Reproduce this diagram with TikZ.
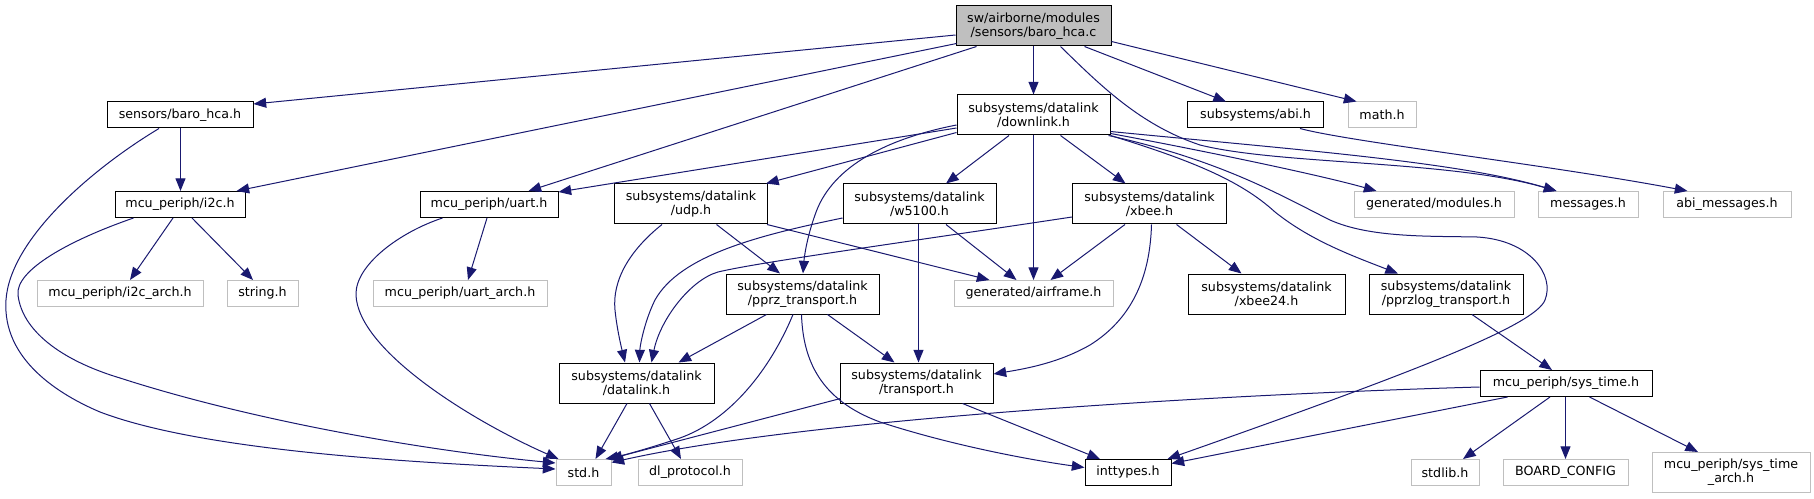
\documentclass[tikz,border=0pt]{standalone}
\usepackage{fontspec}
\setmainfont{DejaVu Sans}
\usetikzlibrary{arrows.meta,calc}
\newlength{\px}\setlength{\px}{0.75pt}
\definecolor{edgecol}{HTML}{191970}
\definecolor{undoc}{HTML}{BFBFBF}
\begin{document}
\begin{tikzpicture}[x=0.75pt,y=-0.75pt,
  nodebase/.style={rectangle, inner sep=0pt, align=center, font=\fontsize{9.5}{10.7}\selectfont, text=black, line width=0.75pt},
  doc/.style={nodebase, draw=black},
  undocbox/.style={nodebase, draw=undoc},
  mainbox/.style={nodebase, draw=black, fill=undoc},
  one/.style={minimum height=26\px},
  two/.style={minimum height=40\px},
  dep/.style={draw=edgecol, line width=0.75pt, -{Triangle[length=9.5pt,width=7.5pt]}},
]
\useasboundingbox (0,0) rectangle (1814,499);
\fill[white] (0,0) rectangle (1814,499);

% row 0
\node[mainbox,two,minimum width=155\px] (main) at (1033.5,26) {sw/airborne/modules\\/sensors/baro\_hca.c};
% row 1
\node[doc,one,minimum width=146\px] (baroh) at (180,115) {sensors/baro\_hca.h};
\node[doc,two,minimum width=153\px] (downlink) at (1033.5,115) {subsystems/datalink\\/downlink.h};
\node[doc,one,minimum width=136\px] (abi) at (1255.5,115) {subsystems/abi.h};
\node[undocbox,one,minimum width=68\px] (math) at (1382,115) {math.h};
% row 2
\node[doc,one,minimum width=130\px] (i2c) at (180,204.5) {mcu\_periph/i2c.h};
\node[doc,one,minimum width=138\px] (uart) at (489,204.5) {mcu\_periph/uart.h};
\node[doc,two,minimum width=153\px] (udp) at (691,204) {subsystems/datalink\\/udp.h};
\node[doc,two,minimum width=153\px] (w5100) at (919.5,204) {subsystems/datalink\\/w5100.h};
\node[doc,two,minimum width=154\px] (xbee) at (1149.5,204) {subsystems/datalink\\/xbee.h};
\node[undocbox,one,minimum width=160\px] (modules) at (1434,204.5) {generated/modules.h};
\node[undocbox,one,minimum width=100\px] (messages) at (1588,204.5) {messages.h};
\node[undocbox,one,minimum width=128\px] (abimsg) at (1727,204.5) {abi\_messages.h};
% row 3
\node[undocbox,one,minimum width=166\px] (i2carch) at (120,293.5) {mcu\_periph/i2c\_arch.h};
\node[undocbox,one,minimum width=71\px] (string) at (262.5,293.5) {string.h};
\node[undocbox,one,minimum width=174\px] (uartarch) at (460,293.5) {mcu\_periph/uart\_arch.h};
\node[doc,two,minimum width=153\px] (pprz) at (802.5,294) {subsystems/datalink\\/pprz\_transport.h};
\node[undocbox,one,minimum width=159\px] (airframe) at (1033.5,293.5) {generated/airframe.h};
\node[doc,two,minimum width=157\px] (xbee24) at (1266.5,294) {subsystems/datalink\\/xbee24.h};
\node[doc,two,minimum width=154\px] (pprzlog) at (1446,294) {subsystems/datalink\\/pprzlog\_transport.h};
% row 4
\node[doc,two,minimum width=155\px] (datalink) at (636.5,383) {subsystems/datalink\\/datalink.h};
\node[doc,two,minimum width=153\px] (transport) at (916.5,383) {subsystems/datalink\\/transport.h};
\node[doc,one,minimum width=172\px] (systime) at (1566,383.5) {mcu\_periph/sys\_time.h};
% row 5
\node[undocbox,one,minimum width=55\px] (stdh) at (583.5,472.5) {std.h};
\node[undocbox,one,minimum width=104\px] (dlproto) at (690,472.5) {dl\_protocol.h};
\node[doc,one,minimum width=86\px] (inttypes) at (1128,472.5) {inttypes.h};
\node[undocbox,one,minimum width=68\px] (stdlib) at (1445,472.5) {stdlib.h};
\node[undocbox,one,minimum width=125\px] (board) at (1565.5,472.5) {BOARD\_CONFIG};
\node[undocbox,two,minimum width=158\px] (systimearch) at (1731,472.5) {mcu\_periph/sys\_time\\\_arch.h};

% edges from main
\draw[dep] ($(main.west)+(0,9)$) -- ($(baroh.east)+(0,-11)$);
\draw[dep] ($(main.south west)+(1,-3)$) -- ($(i2c.north east)+(-9,0)$);
\draw[dep] ($(main.south west)+(21,0)$) -- ($(uart.north east)+(-30,0)$);
\draw[dep] (main) -- (downlink);
\draw[dep] ($(main.south)+(27,0)$) .. controls (1100,85) and (1140,125) .. (1200,145) .. controls (1280,165) and (1450,160) .. ($(messages.north west)+(19,0)$);
\draw[dep] ($(main.south east)+(-27,0)$) -- ($(abi.north west)+(39,0)$);
\draw[dep] ($(main.south east)+(0,-5)$) -- ($(math.north west)+(9,0)$);

% baro_hca.h
\draw[dep] ($(baroh.south)+(0.5,0)$) -- ($(i2c.north)+(0.5,0)$);
\draw[dep] ($(baroh.south)+(-21,0)$) .. controls (90,170) and (10,240) .. (6,300) .. controls (2,360) and (60,395) .. (100,412) .. controls (200,450) and (400,462) .. ($(stdh.west)+(0,-3.5)$);

% i2c.h
\draw[dep] ($(i2c.south)+(-7,0)$) -- ($(i2carch.north)+(10,0)$);
\draw[dep] ($(i2c.south)+(12,0)$) -- ($(string.north)+(-9.5,0)$);
\draw[dep] ($(i2c.south west)+(19,0)$) .. controls (70,240) and (15,270) .. (18,295) .. controls (22,330) and (60,360) .. (120,378) .. controls (250,420) and (420,450) .. ($(stdh.west)+(0,-9.5)$);

% uart.h
\draw[dep] ($(uart.south)+(-2,0)$) -- ($(uartarch.north)+(8,0)$);
\draw[dep] ($(uart.south west)+(23,0)$) .. controls (400,232) and (355,265) .. (356,295) .. controls (358,350) and (470,420) .. ($(stdh.north west)+(3,0)$);

% downlink.h
\draw[dep] ($(downlink.west)+(0,13)$) -- ($(uart.north east)+(0,1)$);
\draw[dep] ($(downlink.south west)+(0,-3)$) -- ($(udp.north east)+(-2,0)$);
\draw[dep] ($(downlink.west)+(0,10)$) .. controls (880,140) and (830,170) .. (815,215) .. controls (806,240) and (804,260) .. ($(pprz.north)+(0.5,0)$);
\draw[dep] ($(downlink.south)+(-24.5,0)$) -- ($(w5100.north)+(26.5,0)$);
\draw[dep] (downlink) -- (airframe);
\draw[dep] ($(downlink.south)+(27,0)$) -- ($(xbee.north)+(-24,0)$);
\draw[dep] ($(downlink.south east)+(0,-2)$) .. controls (1200,150) and (1320,175) .. ($(modules.north west)+(23,0)$);
\draw[dep] ($(downlink.south east)+(0,-4)$) .. controls (1300,150) and (1460,162) .. ($(messages.north west)+(19,0)$);
\draw[dep] (downlink.south east) .. controls (1190,160) and (1240,180) .. (1275,212) .. controls (1310,240) and (1350,255) .. ($(pprzlog.north)+(-48,0)$);
\draw[dep] ($(downlink.south east)+(-2,0)$) .. controls (1220,160) and (1280,195) .. (1330,220) .. controls (1370,238) and (1430,236) .. (1477,237) .. controls (1530,240) and (1555,275) .. (1545,300) .. controls (1535,325) and (1420,370) .. ($(inttypes.north east)+(-4,0)$);

% udp.h
\draw[dep] ($(udp.south)+(25.5,0)$) -- ($(pprz.north)+(-22.5,0)$);
\draw[dep] ($(udp.south)+(-29,0)$) .. controls (630,250) and (612,280) .. (615,310) .. controls (617,330) and (622,350) .. ($(datalink.north)+(-11.5,0)$);
\draw[dep] ($(udp.south east)+(-1,0)$) -- ($(airframe.north west)+(36,0)$);

% w5100.h
\draw[dep] ($(w5100.west)+(0,14)$) .. controls (760,235) and (680,255) .. (655,300) .. controls (645,320) and (640,345) .. ($(datalink.north)+(3,0)$);
\draw[dep] ($(w5100.south)+(26.5,0)$) -- ($(airframe.north west)+(63,0)$);
\draw[dep] ($(w5100.south)+(-1,0)$) -- ($(transport.north)+(2,0)$);

% xbee.h
\draw[dep] ($(xbee.south)+(-24.5,0)$) -- ($(airframe.north)+(17,0)$);
\draw[dep] ($(xbee.south)+(27,0)$) -- ($(xbee24.north west)+(54,0)$);
\draw[dep] ($(xbee.south)+(2,0)$) .. controls (1150,280) and (1130,320) .. (1090,345) .. controls (1060,362) and (1030,368) .. ($(transport.east)+(0,-9)$);
\draw[dep] ($(xbee.west)+(0,13)$) .. controls (900,243) and (760,262) .. (718,272) .. controls (690,280) and (660,320) .. ($(datalink.north)+(15,0)$);

% pprz_transport.h
\draw[dep] ($(pprz.south)+(-36,0)$) -- ($(datalink.north east)+(-36,0)$);
\draw[dep] ($(pprz.south)+(-9.5,0)$) .. controls (770,370) and (730,420) .. (680,438) .. controls (650,448) and (625,455) .. ($(stdh.north east)+(-6,0)$);
\draw[dep] ($(pprz.south)+(25,0)$) -- ($(transport.north)+(-22,0)$);
\draw[dep] ($(pprz.south)+(-1,0)$) .. controls (803,360) and (820,400) .. (880,422) .. controls (950,445) and (1030,460) .. ($(inttypes.west)+(0,-5)$);

% datalink.h
\draw[dep] ($(datalink.south)+(-9.5,0)$) -- ($(stdh.north)+(12,0)$);
\draw[dep] ($(datalink.south)+(13,0)$) -- ($(dlproto.north)+(-9,0)$);

% transport.h
\draw[dep] ($(transport.south west)+(1,-5)$) -- ($(stdh.north east)+(-2,0)$);
\draw[dep] ($(transport.south east)+(-31,0)$) -- ($(inttypes.north)+(-28,0)$);

% pprzlog_transport.h
\draw[dep] ($(pprzlog.south)+(26,0)$) -- ($(systime.north)+(-14,0)$);

% sys_time.h
\draw[dep] ($(systime.west)+(0,3.5)$) .. controls (1200,395) and (800,420) .. ($(stdh.east)+(0,-10)$);
\draw[dep] ($(systime.south west)+(28,0)$) -- ($(inttypes.east)+(0,-9)$);
\draw[dep] ($(systime.south)+(-16,0)$) -- ($(stdlib.north)+(18,0)$);
\draw[dep] ($(systime.south)+(-0.5,0)$) -- (board.north);
\draw[dep] ($(systime.south)+(23.5,0)$) -- ($(systimearch.north)+(-33,0)$);

% abi.h
\draw[dep] ($(abi.south)+(44.5,0)$) .. controls (1350,142) and (1550,165) .. ($(abimsg.north west)+(25,0)$);
\end{tikzpicture}
\end{document}
